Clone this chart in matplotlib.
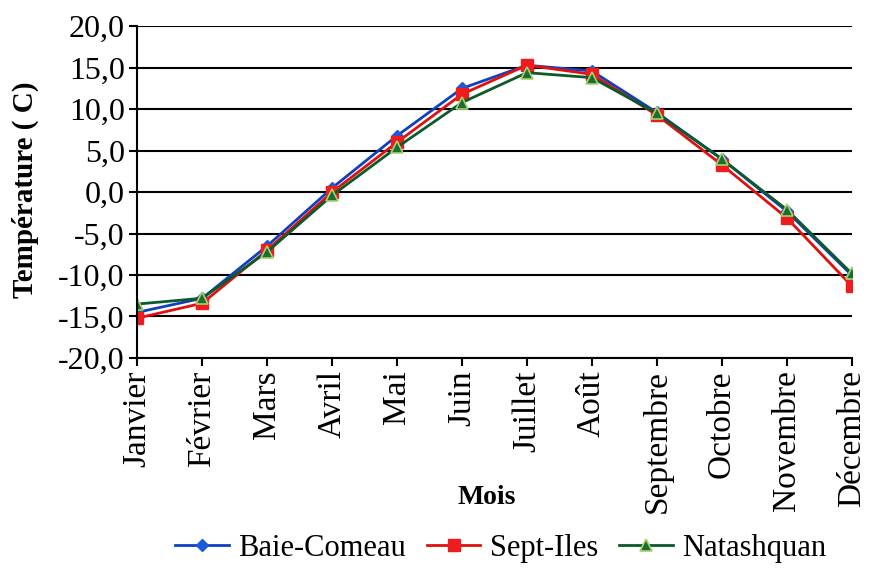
import matplotlib
matplotlib.use("Agg")
import matplotlib.pyplot as plt
from matplotlib.ticker import FuncFormatter

mois = ["Janvier", "Février", "Mars", "Avril", "Mai", "Juin", "Juillet",
        "Août", "Septembre", "Octobre", "Novembre", "Décembre"]
baie_comeau = [-14.5, -12.8, -6.5, 0.5, 6.8, 12.5, 15.3, 14.6, 9.6, 4.0, -2.3, -10.0]
sept_iles = [-15.2, -13.4, -7.0, 0.0, 6.0, 11.8, 15.3, 14.2, 9.3, 3.3, -3.1, -11.3]
natashquan = [-13.5, -12.8, -7.2, -0.4, 5.4, 10.8, 14.4, 13.8, 9.5, 4.0, -2.1, -9.8]

plt.rcParams['font.family'] = ['Liberation Serif', 'DejaVu Serif']

fig = plt.figure(figsize=(8.69, 5.7), dpi=100)
ax = fig.add_axes([0.158, 0.372, 0.822, 0.582])

x = list(range(len(mois)))
ax.plot(x, baie_comeau, color='#1040c0', lw=2, marker='D', ms=6,
        mfc='#1a5ad8', mec='#1a5ad8', label='Baie-Comeau')
ax.plot(x, sept_iles, color='#e01010', lw=2, marker='s', ms=8,
        mfc='#ee1c1c', mec='#ee1c1c', label='Sept-Iles')
ax.plot(x, natashquan, color='#0b5a2a', lw=2, marker='^', ms=8,
        mfc='#1a6e30', mec='#a8d070', mew=1.2, label='Natashquan')

ax.set_xlim(0, 11)
ax.set_ylim(-20, 20)
ax.set_yticks(range(-20, 21, 5))
ax.yaxis.set_major_formatter(FuncFormatter(lambda v, p: f"{v:.1f}".replace('.', ',')))
ax.set_xticks(x)
ax.set_xticklabels(mois, rotation=90, fontsize=24)
ax.tick_params(axis='y', labelsize=23, direction='out', length=6, width=1.5, pad=3)
ax.tick_params(axis='x', direction='out', length=6, width=1.5, pad=3)
ax.grid(axis='y', color='black', lw=1.5)
ax.set_axisbelow(True)
for side in ['top', 'right']:
    ax.spines[side].set_visible(False)
for side in ['left', 'bottom']:
    ax.spines[side].set_linewidth(1.5)

fig.text(25 / 869, 1 - 190 / 570, 'Température ( C)', fontsize=21, fontweight='bold',
         rotation=90, ha='center', va='center')
fig.text(487 / 869, 1 - 497 / 570, 'Mois', fontsize=20, fontweight='bold',
         ha='center', va='center')

fig.legend(loc='center', bbox_to_anchor=(0.576, 0.038), ncol=3, frameon=False,
           fontsize=22, handlelength=1.75, columnspacing=0.7, handletextpad=0.3)

fig.savefig('out.png', dpi=100)
